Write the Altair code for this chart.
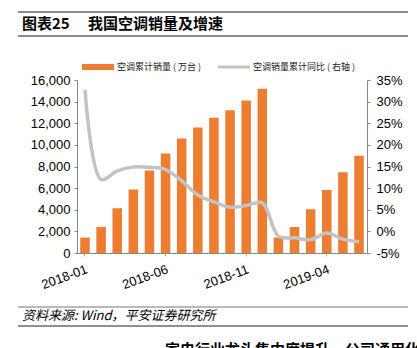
import altair as alt
import pandas as pd

months = ["2018-01", "2018-02", "2018-03", "2018-04", "2018-05", "2018-06",
          "2018-07", "2018-08", "2018-09", "2018-10", "2018-11", "2018-12",
          "2019-01", "2019-02", "2019-03", "2019-04", "2019-05", "2019-06"]
sales = [1430, 2410, 4140, 5870, 7630, 9200, 10600, 11600, 12500, 13200, 14100, 15200,
         1430, 2400, 4050, 5830, 7470, 9000]
yoy = [32.7, 12.0, 14.0, 14.9, 14.8, 14.3, 11.7, 8.4, 6.8, 5.6, 6.0, 6.6,
       -1.1, -1.5, -1.9, -0.4, -1.8, -2.4]
tick_labels = ["2018-01", "2018-06", "2018-11", "2019-04"]

df = pd.DataFrame({"month": months, "sales": sales, "yoy": yoy})
one = pd.DataFrame({"k": [0]})

FONT = "Liberation Sans, Arial, Noto Sans CJK SC"
CJK = "Noto Sans CJK SC, Liberation Sans"

xenc = alt.X("month:N", sort=months, title=None,
             scale=alt.Scale(paddingInner=0.41, paddingOuter=0.2),
             axis=alt.Axis(values=tick_labels, labelAngle=340, labelAlign="right",
                           labelBaseline="top", labelPadding=7, tickSize=3,
                           labelFont=FONT, labelFontSize=13, labelColor="#000",
                           domainColor="#888", tickColor="#aaa", grid=False))

bars = alt.Chart(df).mark_bar(color="#ED7D31").encode(
    x=xenc,
    y=alt.Y("sales:Q", title=None,
            scale=alt.Scale(domain=[0, 16000], nice=False),
            axis=alt.Axis(values=list(range(0, 16001, 2000)), format=",d",
                          labelFont=FONT, labelFontSize=13, labelColor="#000",
                          domainColor="#888", tickColor="#888", tickSize=3,
                          labelPadding=4, grid=False))
)

line = alt.Chart(df).mark_line(color="#C3C3C3", strokeWidth=3.5,
                               interpolate="catmull-rom").encode(
    x=alt.X("month:N", sort=months),
    y=alt.Y("yoy:Q", title=None,
            scale=alt.Scale(domain=[-5, 35], nice=False),
            axis=alt.Axis(orient="right", values=list(range(-5, 36, 5)),
                          labelExpr="datum.value + '%'",
                          labelFont=FONT, labelFontSize=13, labelColor="#000",
                          domainColor="#888", tickColor="#888", tickSize=3,
                          labelPadding=6, grid=False))
)

def rule(x1, x2, y, color, w):
    return alt.Chart(one).mark_rule(color=color, strokeWidth=w).encode(
        x=alt.value(x1), x2=alt.value(x2), y=alt.value(y))

def txt(s, x, y, size, weight="normal", style="normal", font=CJK, color="#000", baseline="middle"):
    return alt.Chart(one).mark_text(align="left", baseline=baseline, fontSize=size,
                                    fontWeight=weight, fontStyle=style, font=font,
                                    color=color).encode(
        x=alt.value(x), y=alt.value(y), text=alt.value(s))

deco = [
    rule(-59, 331, -68, "#666", 1.5),
    rule(-59, 331, -44, "#666", 1.5),
    txt("图表25", -55, -56, 15, weight="bold"),
    txt("我国空调销量及增速", 11, -56, 15, weight="bold"),
    alt.Chart(one).mark_rect(color="#ED7D31").encode(
        x=alt.value(5), x2=alt.value(37), y=alt.value(-16), y2=alt.value(-10)),
    txt("空调累计销量 ( 万台 )", 40, -13, 9, color="#222"),
    rule(141, 173, -13, "#C3C3C3", 3),
    txt("空调销量累计同比 ( 右轴 )", 176, -13, 9, color="#222"),
    rule(-59, 331, 227, "#777", 1.2),
    txt("资料来源: Wind，平安证券研究所", -55, 236, 13, style="italic"),
    rule(-59, 331, 246, "#222", 1.2),
    txt("家电行业龙头集中度提升，公司通用化", 88, 263, 15, weight="bold", baseline="top"),
]

chart = alt.layer(bars, line).resolve_scale(y="independent")
chart = alt.layer(chart, *deco).properties(
    width=290, height=173,
    autosize=alt.AutoSizeParams(type="none"),
    padding={"left": 77, "top": 80, "right": 50, "bottom": 95},
    background="white",
).configure_view(stroke=None)

chart.save("out.html", embed_options={"renderer": "svg", "actions": False})
